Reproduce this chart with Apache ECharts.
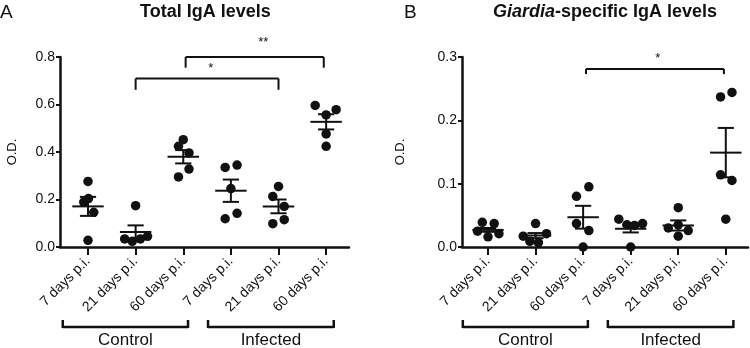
<!DOCTYPE html>
<html>
<head>
<meta charset="utf-8">
<script src="https://cdn.jsdelivr.net/npm/echarts@6/dist/echarts.min.js"></script>
<style>
  html, body { margin: 0; background: #fff; }
  #main { width: 750px; height: 348px; }
</style>
</head>
<body>
<div id="main"></div>
<script>
const tickLabels = ['7 days p.i.', '21 days p.i.', '60 days p.i.', '7 days p.i.', '21 days p.i.', '60 days p.i.'];
const groupNames = ['Control', 'Infected'];
const groupSpans = [[-0.53, 2.1], [2.52, 5.16]];

// A: total IgA, one row of mice per group
const totalValues = [
  [0.276, 0.204, 0.189, 0.146, 0.028],
  [0.174, 0.034, 0.024, 0.034, 0.045],
  [0.452, 0.424, 0.396, 0.328, 0.295],
  [0.345, 0.335, 0.246, 0.142, 0.119],
  [0.255, 0.213, 0.171, 0.115, 0.098],
  [0.596, 0.578, 0.556, 0.476, 0.424]
];
const totalJitter = [
  [0, 0.01, -0.09, 0.12, 0],
  [0, -0.23, -0.07, 0.1, 0.25],
  [0, -0.1, 0.12, 0.12, -0.1],
  [0.13, -0.12, 0, 0.13, -0.12],
  [0, -0.12, 0.12, 0.12, -0.12],
  [-0.23, 0.21, 0, 0, 0]
];
const totalMean = [0.171, 0.063, 0.38, 0.237, 0.171, 0.527];
const totalSem = [0.04, 0.028, 0.028, 0.047, 0.029, 0.032];
// from, to, bar height, drop end, label x, label y
const totalSig = [[1, 4, 0.709, 0.662, 2.58, 0.751], [2.05, 4.95, 0.8, 0.755, 3.68, 0.86]];
const totalSigText = ['*', '**'];

// B: Giardia-specific IgA
const giardiaValues = [
  [0.039, 0.037, 0.025, 0.021, 0.016],
  [0.037, 0.021, 0.017, 0.009, 0.007],
  [0.095, 0.080, 0.037, 0.026, 0.0],
  [0.044, 0.037, 0.034, 0.035, 0.0],
  [0.062, 0.035, 0.030, 0.026, 0.017],
  [0.244, 0.237, 0.114, 0.105, 0.044]
];
const giardiaJitter = [
  [-0.12, 0.13, -0.22, 0.23, 0],
  [0, 0.23, -0.26, -0.12, 0.06],
  [0.12, -0.14, -0.14, 0.12, 0],
  [-0.25, 0.25, 0.08, -0.08, 0],
  [0, 0, -0.21, 0.21, 0],
  [0.13, -0.11, -0.11, 0.13, 0]
];
const giardiaMean = [0.027, 0.018, 0.047, 0.029, 0.034, 0.149];
const giardiaSem = [0.003, 0.004, 0.018, 0.006, 0.008, 0.039];
const giardiaSig = [[2.06, 4.96, 0.281, 0.273, 3.57, 0.297]];
const giardiaSigText = ['*'];

const font = '"Liberation Sans", Arial, sans-serif';
const ink = '#111';

function points(values, jitter) {
  const out = [];
  values.forEach((row, i) => row.forEach((v, j) => out.push([i + jitter[i][j], v])));
  return out;
}

function line(a, b, w) {
  return { type: 'line', shape: { x1: a[0], y1: a[1], x2: b[0], y2: b[1] }, style: { stroke: ink, lineWidth: w || 2 } };
}

function errorSeries(idx, mean, sem) {
  return {
    type: 'custom', xAxisIndex: idx, yAxisIndex: idx, z: 3,
    data: mean.map((m, i) => [i, m, sem[i]]),
    renderItem: function (params, api) {
      const x = api.value(0), m = api.value(1), s = api.value(2);
      const top = api.coord([x, m + s]), bot = api.coord([x, m - s]);
      const ml = api.coord([x - 0.33, m]), mr = api.coord([x + 0.33, m]);
      const cl = api.coord([x - 0.17, m])[0], cr = api.coord([x + 0.17, m])[0];
      return {
        type: 'group', children: [
          line(ml, mr), line(top, bot),
          line([cl, top[1]], [cr, top[1]]), line([cl, bot[1]], [cr, bot[1]])
        ]
      };
    }
  };
}

function sigSeries(idx, sig, texts) {
  return {
    type: 'custom', xAxisIndex: idx, yAxisIndex: idx, clip: false, z: 3,
    data: sig,
    renderItem: function (params, api) {
      const a = api.coord([api.value(0), api.value(2)]);
      const b = api.coord([api.value(1), api.value(2)]);
      const ad = api.coord([api.value(0), api.value(3)]);
      const bd = api.coord([api.value(1), api.value(3)]);
      const t = api.coord([api.value(4), api.value(5)]);
      return {
        type: 'group', children: [
          line(a, b), line(a, ad), line(b, bd),
          { type: 'text', x: t[0], y: t[1], style: { text: texts[params.dataIndex], fill: ink, font: '13px ' + font, textAlign: 'center', textVerticalAlign: 'middle' } }
        ]
      };
    }
  };
}

function groupSeries(idx) {
  return {
    type: 'custom', xAxisIndex: idx, yAxisIndex: idx, clip: false, z: 3,
    data: groupSpans,
    renderItem: function (params, api) {
      const a = api.coord([api.value(0), 0]);
      const b = api.coord([api.value(1), 0]);
      const y = a[1] + 80;
      return {
        type: 'group', children: [
          line([a[0], y], [b[0], y], 2.5), line([a[0], y + 1], [a[0], y - 7], 2.5), line([b[0], y + 1], [b[0], y - 7], 2.5),
          { type: 'text', x: (a[0] + b[0]) / 2, y: y + 13, style: { text: groupNames[params.dataIndex], fill: ink, font: '17px ' + font, textAlign: 'center', textVerticalAlign: 'middle' } }
        ]
      };
    }
  };
}

function xAxis(idx, min, max) {
  return {
    type: 'value', gridIndex: idx, min: min, max: max,
    splitLine: { show: false },
    axisLine: { show: true, onZero: false, lineStyle: { color: ink, width: 2.5 } },
    axisTick: { show: true, customValues: [0, 1, 2, 3, 4, 5], length: 8, lineStyle: { color: ink, width: 2 } },
    axisLabel: {
      customValues: [0, 1, 2, 3, 4, 5], rotate: 45, margin: 12,
      formatter: v => tickLabels[Math.round(v)], color: ink, fontSize: 14, fontFamily: font
    }
  };
}

function yAxis(idx, max, step, gap) {
  return {
    type: 'value', gridIndex: idx, min: 0, max: max, interval: step,
    name: 'O.D.', nameLocation: 'middle', nameRotate: 90, nameGap: gap,
    nameTextStyle: { color: ink, fontSize: 13, fontFamily: font },
    splitLine: { show: false },
    axisLine: { show: true, onZero: false, lineStyle: { color: ink, width: 2.5 } },
    axisTick: { show: true, length: 4, lineStyle: { color: ink, width: 2 } },
    axisLabel: { formatter: v => v.toFixed(1), color: ink, fontSize: 14, fontFamily: font, margin: 5 }
  };
}

const chart = echarts.init(document.getElementById('main'));

let option = {
  animation: false,
  title: [
    { text: 'A', left: 0, top: 3, padding: 0, textStyle: { fontSize: 19, fontWeight: 'normal', color: ink, fontFamily: font } },
    { text: 'Total IgA levels', left: 140, top: 3, padding: 0, textStyle: { fontSize: 18, fontWeight: 'bold', color: ink, fontFamily: font } },
    { text: 'B', left: 404, top: 3, padding: 0, textStyle: { fontSize: 19, fontWeight: 'normal', color: ink, fontFamily: font } },
    {
      text: '{i|Giardia}-specific IgA levels', left: 493, top: 3, padding: 0,
      textStyle: {
        fontSize: 18, fontWeight: 'bold', color: ink, fontFamily: font,
        rich: { i: { fontSize: 18, fontWeight: 'bold', fontStyle: 'italic', color: ink, fontFamily: font } }
      }
    }
  ],
  grid: [
    { left: 60, top: 57, width: 289, height: 190 },
    { left: 462, top: 57, width: 286, height: 190 }
  ],
  xAxis: [xAxis(0, -0.588, 5.48), xAxis(1, -0.547, 5.467)],
  yAxis: [yAxis(0, 0.8, 0.2, 41), yAxis(1, 0.3, 0.1, 55)],
  series: [
    { type: 'scatter', xAxisIndex: 0, yAxisIndex: 0, symbolSize: 9.5, itemStyle: { color: ink, opacity: 1 }, data: points(totalValues, totalJitter), clip: false, z: 2 },
    errorSeries(0, totalMean, totalSem),
    sigSeries(0, totalSig, totalSigText),
    groupSeries(0),
    { type: 'scatter', xAxisIndex: 1, yAxisIndex: 1, symbolSize: 9.5, itemStyle: { color: ink, opacity: 1 }, data: points(giardiaValues, giardiaJitter), clip: false, z: 2 },
    errorSeries(1, giardiaMean, giardiaSem),
    sigSeries(1, giardiaSig, giardiaSigText),
    groupSeries(1)
  ]
};

chart.setOption(option);
</script>
</body>
</html>
